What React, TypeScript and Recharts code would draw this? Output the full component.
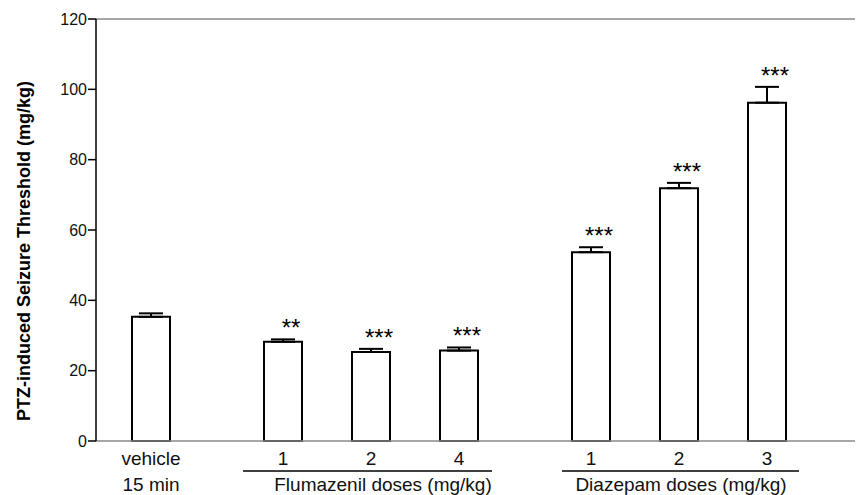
import { BarChart, Bar, XAxis, YAxis, ErrorBar, LabelList, ReferenceLine } from 'recharts'

const doses = ['vehicle', '1', '2', '4', '1', '2', '3']
const slots = [0, 3, 5, 7, 10, 12, 14]
const thresholds = [35.3, 28.2, 25.3, 25.7, 53.7, 71.9, 96.2]
const sems = [1.0, 0.7, 0.9, 0.9, 1.4, 1.5, 4.5]
const stars = ['', '**', '***', '***', '***', '***', '***']
const yTicks = [0, 20, 40, 60, 80, 100, 120]
const groups = [
  { slot: 5, label: 'Flumazenil doses (mg/kg)', left: 128, right: 121, dx: 12 },
  { slot: 12, label: 'Diazepam doses (mg/kg)', left: 117, right: 120, dx: 2 },
]

const font = '"Liberation Sans", Arial, sans-serif'

const chartData = doses.map((d, i) => ({
  slot: slots[i],
  dose: d,
  value: thresholds[i],
  err: [0, sems[i]],
  stars: stars[i],
}))

function DoseTick({ x, y, payload }: any) {
  const i = slots.indexOf(payload.value)
  const group = groups.find(g => g.slot === payload.value)
  return (
    <g fontFamily={font} fontSize={19} fill="#111">
      <text x={x} y={y + 16} textAnchor="middle">{doses[i]}</text>
      {i === 0 && <text x={x} y={y + 42} textAnchor="middle">15 min</text>}
      {group && (
        <>
          <line x1={x - group.left} x2={x + group.right} y1={y + 22} y2={y + 22} stroke="#000" strokeWidth={1.5} />
          <text x={x + group.dx} y={y + 42} textAnchor="middle">{group.label}</text>
        </>
      )}
    </g>
  )
}

function StarLabel(props: any) {
  const { x, y, width, height, index } = props
  const s = stars[index]
  if (!s) return null
  const pxPerUnit = height / thresholds[index]
  const capTop = y - sems[index] * pxPerUnit
  return (
    <text x={x + width / 2 + 8} y={capTop - 3} textAnchor="middle" fontFamily={font} fontSize={24} fill="#000">
      {s}
    </text>
  )
}

function YTitle({ viewBox }: any) {
  // the title sits a little below the plot's middle in the original
  const cy = viewBox.y + viewBox.height / 2 + 21
  const cx = 24
  return (
    <text x={cx} y={cy} transform={`rotate(-90 ${cx} ${cy})`} textAnchor="middle" dominantBaseline="central"
      fontFamily={font} fontSize={18} fontWeight="bold" fill="#000">
      PTZ-induced Seizure Threshold (mg/kg)
    </text>
  )
}

export default function App() {
  return (
    <div style={{ position: 'absolute', left: 0, top: 0, background: '#fff' }}>
      <BarChart width={859} height={495} data={chartData} margin={{ top: 19, right: 4, left: 0, bottom: 0 }}>
        <XAxis
          dataKey="slot"
          type="number"
          domain={[-1.25, 16]}
          ticks={slots}
          tick={<DoseTick />}
          tickLine={false}
          axisLine={{ stroke: '#888', strokeWidth: 1.5 }}
          height={54}
          interval={0}
          allowDataOverflow
        />
        <YAxis
          domain={[0, 120]}
          ticks={yTicks}
          width={96}
          tickSize={8}
          tickMargin={1}
          axisLine={{ stroke: '#000', strokeWidth: 1.5 }}
          tickLine={{ stroke: '#000', strokeWidth: 1.5 }}
          tick={{ fontFamily: font, fontSize: 16, fill: '#111' }}
          label={<YTitle />}
        />
        <ReferenceLine y={120} stroke="#888" strokeWidth={1.5} />
        <Bar dataKey="value" fill="#fff" stroke="#000" strokeWidth={2} barSize={38} isAnimationActive={false}>
          <ErrorBar dataKey="err" direction="y" width={12} stroke="#000" strokeWidth={2} />
          <LabelList dataKey="stars" content={<StarLabel />} />
        </Bar>
      </BarChart>
    </div>
  )
}
